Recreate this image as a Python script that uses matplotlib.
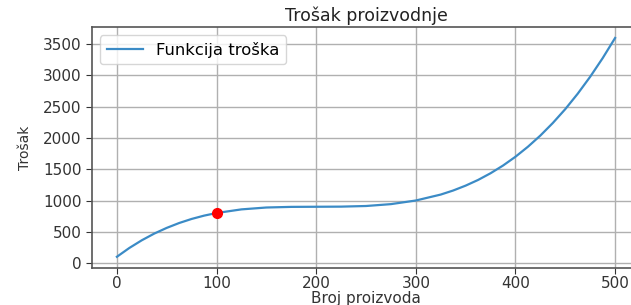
## Trošak proizvodnje - recreated chart

## Importing Modules
import matplotlib
matplotlib.use('Agg')
import matplotlib.pyplot as plt

## Data
broj = [0, 12.5, 25, 37.5, 50, 62.5, 75, 87.5, 100, 125, 150, 175, 200, 225,
        250, 275, 300, 325, 337.5, 350, 362.5, 375, 387.5, 400, 412.5, 425,
        437.5, 450, 462.5, 475, 487.5, 500]
trosak = [100, 241, 364, 471, 562, 640, 705, 758, 800, 858, 888, 898, 900, 902,
          912, 942, 1000, 1095, 1160, 1238, 1329, 1436, 1559, 1700, 1860, 2039,
          2240, 2462, 2709, 2980, 3277, 3600]
tocka_x = [100]
tocka_y = [800]

## Plotting
fig = plt.figure(figsize=(6.31, 3.05), dpi=100)
ax = fig.add_axes([92 / 631, 0.1223, 548 / 631, 0.789])
ax.plot(broj, trosak, color='#3b8bc6', linewidth=1.6, label='Funkcija troška')
ax.plot(tocka_x, tocka_y, 'o', color='red', markersize=7)

# Plot Formatting
ax.set_title('Trošak proizvodnje', fontsize=12.5, color='#222222', pad=4)
ax.set_xlabel('Broj proizvoda', fontsize=11, color='#333333', labelpad=0)
ax.set_ylabel('Trošak', fontsize=10, color='#333333', labelpad=8)
ax.set_xticks([0, 100, 200, 300, 400, 500])
ax.set_yticks([0, 500, 1000, 1500, 2000, 2500, 3000, 3500])
ax.tick_params(labelsize=11, colors='#333333', length=4)
ax.tick_params(axis='x', pad=2)
ax.grid(True, color='#b0b0b0', linewidth=1.0)
for s in ax.spines.values():
    s.set_color('#555555')
    s.set_linewidth(1.2)
ax.legend(loc='upper left', fontsize=11.8, handlelength=2.2)

fig.savefig('out.png', dpi=100)
